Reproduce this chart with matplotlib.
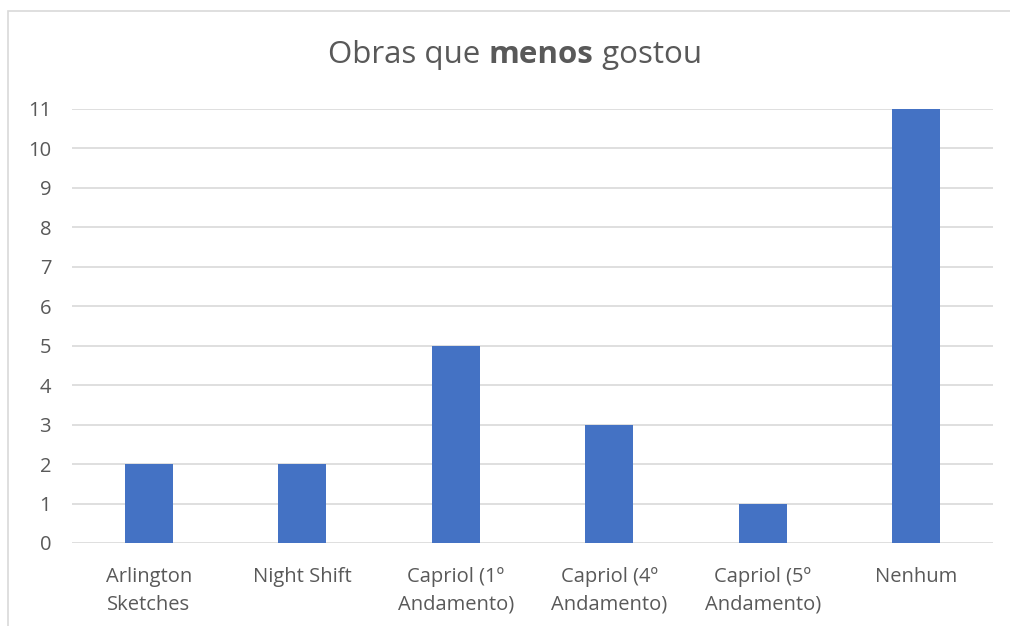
import matplotlib.pyplot as plt
from matplotlib.patches import Rectangle

# Data
categories = ['Arlington\nSketches', 'Night Shift', 'Capriol (1º\nAndamento)',
              'Capriol (4º\nAndamento)', 'Capriol (5º\nAndamento)', 'Nenhum']
values = [2, 2, 5, 3, 1, 11]
yticks = list(range(0, 12))

plt.rcParams['font.family'] = ['Open Sans', 'DejaVu Sans']
TXT = '#595959'

fig = plt.figure(figsize=(10.1, 6.26), dpi=100)
ax = fig.add_axes([72 / 1010, 1 - 543 / 626, (993 - 72) / 1010, (543 - 109) / 626])

x = range(len(categories))
ax.bar(x, values, width=0.31, color='#4472C4', zorder=3)

ax.set_xlim(-0.5, len(categories) - 0.5)
ax.set_ylim(0, 11)
ax.set_yticks(yticks)
ax.set_xticks(list(x))
ax.set_xticklabels(categories, fontsize=14.5, color=TXT, linespacing=1.55)
ax.tick_params(axis='y', labelsize=14.5, labelcolor=TXT, length=0, pad=15)
ax.tick_params(axis='x', length=0, pad=17)
ax.grid(axis='y', color='#d9d9d9', linewidth=1.2, zorder=0)
for s in ax.spines.values():
    s.set_visible(False)

# title, with the word "menos" in bold
fig.canvas.draw()
r = fig.canvas.get_renderer()
parts = [('Obras que ', 'normal'), ('menos', 'bold'), (' gostou', 'normal')]
widths = []
for s, w in parts:
    tt = fig.text(0, 0, s, fontsize=22.5, fontweight=w)
    widths.append(tt.get_window_extent(r).width)
    tt.remove()
xpix = 515 - sum(widths) / 2
for (s, w), wd in zip(parts, widths):
    fig.text(xpix / 1010, 1 - 55 / 626, s, fontsize=22.5, fontweight=w, color=TXT,
             ha='left', va='center')
    xpix += wd

# chart border (cropped on right and bottom)
fig.patches.append(Rectangle((7.5 / 1010, -0.1), 2, (626 - 10.5) / 626 + 0.1,
                             transform=fig.transFigure, fill=False,
                             edgecolor='#d9d9d9', linewidth=1.2))

fig.savefig('out.png', dpi=100)
